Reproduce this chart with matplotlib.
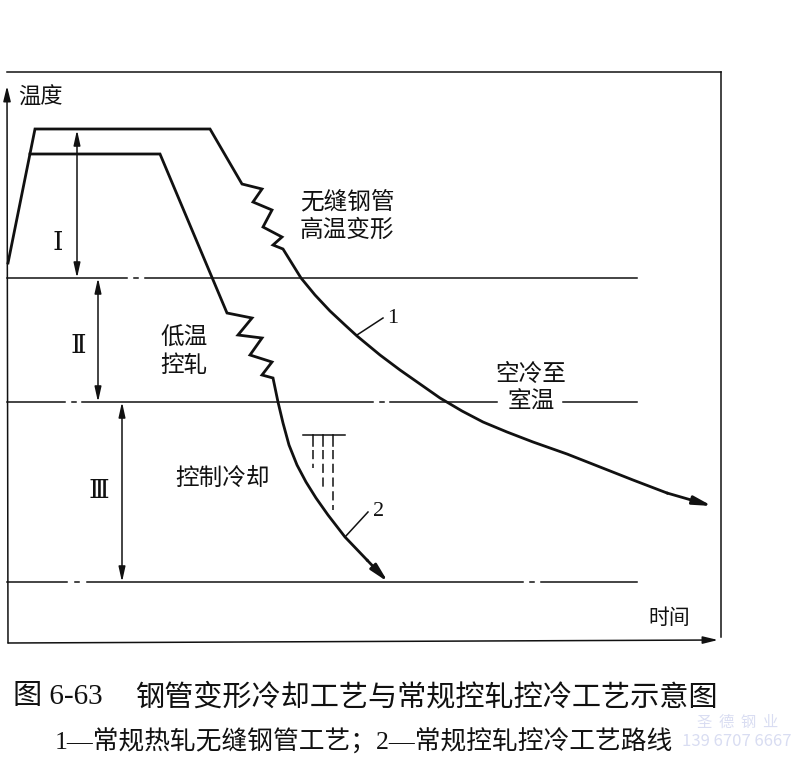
import matplotlib
matplotlib.use("Agg")
import matplotlib.pyplot as plt

plt.rcParams['font.family'] = ['Noto Sans CJK SC', 'DejaVu Sans']

# ---- schematic data (picture coordinates: x = time, y = temperature, y grows downward) ----
# route 1: conventional hot rolling of seamless tube
c1_x = [8, 35, 210, 242, 262, 253, 272, 263, 282, 273, 283, 301, 315, 330, 345, 357,
        380, 400, 420, 440, 462, 483, 507, 533, 567, 600, 633, 667, 712]
c1_y = [263, 129, 129, 184, 189, 202, 210, 227, 237, 245, 249, 278, 295, 311, 325, 336,
        355, 370, 384, 398, 411, 422, 432, 442, 454, 467, 480, 493, 506]
# route 2: conventional controlled rolling + controlled cooling
c2_x = [30, 160, 227, 252, 238, 262, 250, 272, 262, 273, 278, 283, 289, 297, 306, 316, 328, 345, 367, 388]
c2_y = [154, 154, 313, 318, 335, 338, 355, 362, 375, 378, 402, 423, 445, 465, 482, 498, 515, 537, 560, 582]

# temperature zone boundaries
zone_y = [278, 402, 582]
zone_x_end = [637, 637, 637]
# dash-dot breaks (start, end) on each boundary line
zone_breaks = [[(127, 145)], [(65, 82), (373, 390), (497, 563)], [(67, 87), (523, 541)]]

# zone arrows: (x, y_top, y_bottom, label, label_x, label_y)
zone_arrows = [(77, 130, 278, "Ⅰ", 58, 242),
               (98, 278, 402, "Ⅱ", 78, 345),
               (122, 402, 582, "Ⅲ", 99, 490)]

# spray symbol
spray_top_x = [303, 345]
spray_top_y = 435
spray_cols = [313, 323, 333]
spray_ends = [468, 490, 510]

fig = plt.figure(figsize=(8.0, 7.78), dpi=100)
ax = fig.add_axes([0, 0, 1, 1])
ax.set_xlim(0, 800)
ax.set_ylim(778, 0)
ax.axis('off')

K = '#111111'
thin = 1.1
thick = 2.0

# frame
ax.plot([7, 721], [72, 72], color=K, lw=thin)
ax.plot([721, 721], [72, 637], color=K, lw=thin)
ax.annotate('', xy=(7, 86), xytext=(8, 643),
            arrowprops=dict(arrowstyle='-|>,head_length=0.9,head_width=0.22', color=K, lw=thin,
                            shrinkA=0, shrinkB=0))
ax.annotate('', xy=(718, 640), xytext=(8, 643),
            arrowprops=dict(arrowstyle='-|>,head_length=0.9,head_width=0.22', color=K, lw=thin,
                            shrinkA=0, shrinkB=0))

# zone boundary lines (dash-dot)
for y, xe, brks in zip(zone_y, zone_x_end, zone_breaks):
    x0 = 7
    for (b0, b1) in brks:
        ax.plot([x0, b0], [y, y], color=K, lw=thin)
        if b1 - b0 < 30:
            m = (b0 + b1) / 2
            ax.plot([m - 2, m + 2], [y, y], color=K, lw=thin)
        x0 = b1
    ax.plot([x0, xe], [y, y], color=K, lw=thin)

# curves
ax.plot(c1_x[:-1], c1_y[:-1], color=K, lw=thick, solid_joinstyle='miter')
ax.annotate('', xy=(c1_x[-1], c1_y[-1]), xytext=(c1_x[-2], c1_y[-2]),
            arrowprops=dict(arrowstyle='-|>,head_length=1.1,head_width=0.25', color=K, lw=thick,
                            shrinkA=0, shrinkB=0))
ax.plot(c2_x[:-1], c2_y[:-1], color=K, lw=thick, solid_joinstyle='miter')
ax.annotate('', xy=(c2_x[-1], c2_y[-1]), xytext=(c2_x[-2], c2_y[-2]),
            arrowprops=dict(arrowstyle='-|>,head_length=1.1,head_width=0.25', color=K, lw=thick,
                            shrinkA=0, shrinkB=0))

# leaders
ax.plot([357, 383], [335, 318], color=K, lw=thin)
ax.text(393, 318, "1", fontsize=16, family=['Liberation Serif'], ha='center', va='center', color=K)
ax.plot([345, 368], [537, 512], color=K, lw=thin)
ax.text(379, 512, "2", fontsize=16, family=['Liberation Serif'], ha='center', va='center', color=K)

# zone arrows
for (x, yt, yb, lab, lx, ly) in zone_arrows:
    ax.annotate('', xy=(x, yt), xytext=(x, yb),
                arrowprops=dict(arrowstyle='<|-|>,head_length=0.9,head_width=0.2', color=K, lw=thin,
                                shrinkA=0, shrinkB=0))
    ax.text(lx, ly, lab, fontsize=19, ha='center', va='center', color=K,
            family=['DejaVu Serif', 'Noto Sans CJK SC'])

# spray symbol
ax.plot(spray_top_x, [spray_top_y, spray_top_y], color=K, lw=thin)
for sx, se in zip(spray_cols, spray_ends):
    ax.plot([sx, sx], [spray_top_y, spray_top_y + 11], color=K, lw=thin)
    ax.plot([sx, sx], [spray_top_y + 15, se], color=K, lw=thin, dashes=(6, 3))

# texts
fs = 17
ax.text(18, 97, "温度", fontsize=16, ha='left', va='center', color=K)
ax.text(300, 202, "无缝钢管", fontsize=fs, ha='left', va='center', color=K)
ax.text(300, 230, "高温变形", fontsize=fs, ha='left', va='center', color=K)
ax.text(160, 338, "低温", fontsize=fs, ha='left', va='center', color=K)
ax.text(160, 365, "控轧", fontsize=fs, ha='left', va='center', color=K)
ax.text(175, 478, "控制冷却", fontsize=fs, ha='left', va='center', color=K)
ax.text(531, 374, "空冷至", fontsize=fs, ha='center', va='center', color=K)
ax.text(531, 402, "室温", fontsize=fs, ha='center', va='center', color=K)
ax.text(648, 618, "时间", fontsize=15, ha='left', va='center', color=K)

# caption
ax.text(13, 697, "图 6-63", fontsize=21, ha='left', va='center', color=K,
        family=['Liberation Serif', 'Noto Sans CJK SC'])
ax.text(135, 697, "钢管变形冷却工艺与常规控轧控冷工艺示意图", fontsize=21, ha='left', va='center', color=K)
ax.text(55, 742, "1—常规热轧无缝钢管工艺；2—常规控轧控冷工艺路线", fontsize=18.5, ha='left', va='center',
        color=K, family=['Liberation Serif', 'Noto Sans CJK SC'])

# watermark
ax.text(738, 722, "圣  德  钢  业", fontsize=11, ha='center', va='center', color='#d9ddf2')
ax.text(737, 741, "139 6707 6667", fontsize=12, ha='center', va='center', color='#d9ddf2')

fig.savefig("out.png", dpi=100)
